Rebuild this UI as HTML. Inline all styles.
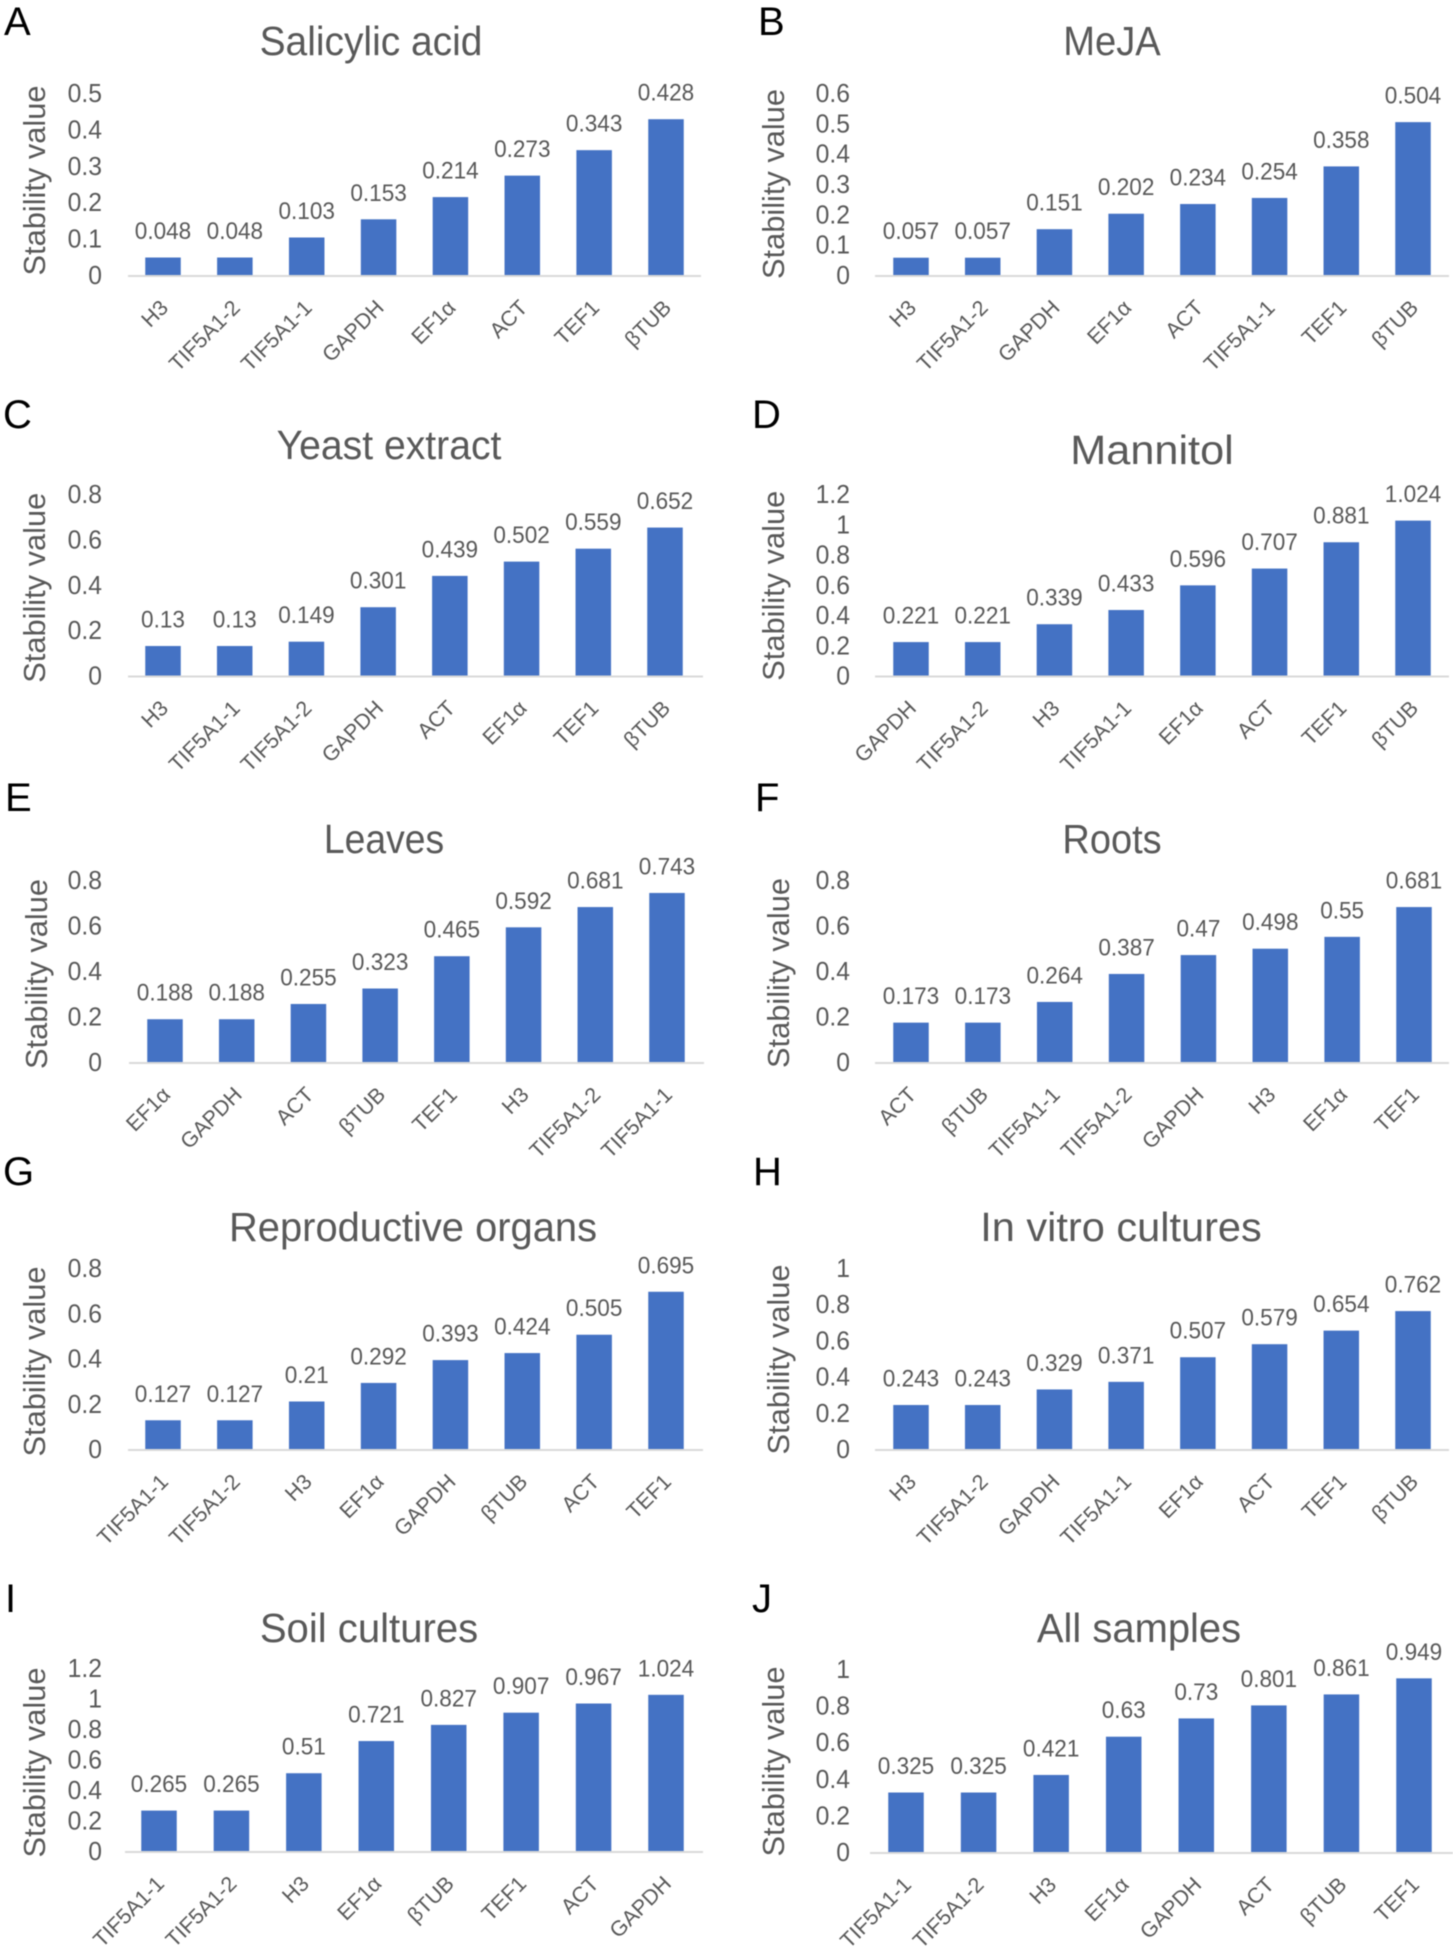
<!DOCTYPE html>
<html lang="en">
<head>
<meta charset="utf-8">
<title>Stability value charts</title>
<style>
html,body{margin:0;padding:0;background:#fff;}
svg{display:block;filter:blur(0.5px);}
text{font-family:"Liberation Sans",sans-serif;}
</style>
</head>
<body>
<svg id="figure" width="1453" height="1950" viewBox="0 0 1453 1950" xmlns="http://www.w3.org/2000/svg"></svg>
<script>
const categoriesA = ["H3","TIF5A1-2","TIF5A1-1","GAPDH","EF1α","ACT","TEF1","βTUB"];
const valuesA = [0.048,0.048,0.103,0.153,0.214,0.273,0.343,0.428];
const ticksA = ["0","0.1","0.2","0.3","0.4","0.5"];

const categoriesB = ["H3","TIF5A1-2","GAPDH","EF1α","ACT","TIF5A1-1","TEF1","βTUB"];
const valuesB = [0.057,0.057,0.151,0.202,0.234,0.254,0.358,0.504];
const ticksB = ["0","0.1","0.2","0.3","0.4","0.5","0.6"];

const categoriesC = ["H3","TIF5A1-1","TIF5A1-2","GAPDH","ACT","EF1α","TEF1","βTUB"];
const valuesC = [0.13,0.13,0.149,0.301,0.439,0.502,0.559,0.652];
const ticksC = ["0","0.2","0.4","0.6","0.8"];

const categoriesD = ["GAPDH","TIF5A1-2","H3","TIF5A1-1","EF1α","ACT","TEF1","βTUB"];
const valuesD = [0.221,0.221,0.339,0.433,0.596,0.707,0.881,1.024];
const ticksD = ["0","0.2","0.4","0.6","0.8","1","1.2"];

const categoriesE = ["EF1α","GAPDH","ACT","βTUB","TEF1","H3","TIF5A1-2","TIF5A1-1"];
const valuesE = [0.188,0.188,0.255,0.323,0.465,0.592,0.681,0.743];
const ticksE = ["0","0.2","0.4","0.6","0.8"];

const categoriesF = ["ACT","βTUB","TIF5A1-1","TIF5A1-2","GAPDH","H3","EF1α","TEF1"];
const valuesF = [0.173,0.173,0.264,0.387,0.47,0.498,0.55,0.681];
const ticksF = ["0","0.2","0.4","0.6","0.8"];

const categoriesG = ["TIF5A1-1","TIF5A1-2","H3","EF1α","GAPDH","βTUB","ACT","TEF1"];
const valuesG = [0.127,0.127,0.21,0.292,0.393,0.424,0.505,0.695];
const ticksG = ["0","0.2","0.4","0.6","0.8"];

const categoriesH = ["H3","TIF5A1-2","GAPDH","TIF5A1-1","EF1α","ACT","TEF1","βTUB"];
const valuesH = [0.243,0.243,0.329,0.371,0.507,0.579,0.654,0.762];
const ticksH = ["0","0.2","0.4","0.6","0.8","1"];

const categoriesI = ["TIF5A1-1","TIF5A1-2","H3","EF1α","βTUB","TEF1","ACT","GAPDH"];
const valuesI = [0.265,0.265,0.51,0.721,0.827,0.907,0.967,1.024];
const ticksI = ["0","0.2","0.4","0.6","0.8","1","1.2"];

const categoriesJ = ["TIF5A1-1","TIF5A1-2","H3","EF1α","GAPDH","ACT","βTUB","TEF1"];
const valuesJ = [0.325,0.325,0.421,0.63,0.73,0.801,0.861,0.949];
const ticksJ = ["0","0.2","0.4","0.6","0.8","1"];

const NS = "http://www.w3.org/2000/svg";
const root = document.getElementById("figure");

function make(parent, tag, attrs, content) {
  const el = document.createElementNS(NS, tag);
  for (const k in attrs) el.setAttribute(k, attrs[k]);
  if (content !== undefined) el.textContent = content;
  parent.appendChild(el);
  return el;
}

function place(x, y, sx) {
  return "translate(" + x + "," + y + ") scale(" + sx + ",1)";
}

function drawPanel(letter, title, categories, values, ticks, box) {
  const g = make(root, "g", {});
  
  

  const maxTick = parseFloat(ticks[ticks.length - 1]);
  const yScale = v => box.base - (v / maxTick) * (box.base - box.top);
  const xScale = i => box.first + i * (box.last - box.first) / (categories.length - 1);

  const letterEl = make(g, "text", {x: box.lx, y: box.ly, "font-size": 40, fill: "#000"}, letter);
  
  

  const titleEl = make(g, "text", {"font-size": 41, fill: "#595959", "text-anchor": "middle", transform: place(box.tx, box.ty + 14, box.ts)}, title);
  
  

  const yTitle = make(g, "text", {
    x: 0, y: 0, "font-size": 30.8, fill: "#595959", "text-anchor": "middle",
    transform: "translate(" + (box.yl + 10) + "," + ((box.base + box.top) / 2 + 2 + box.yo) + ") rotate(-90)"
  }, "Stability value");
  
  

  ticks.forEach(t => {
    const tickEl = make(g, "text", {
      "font-size": 26, fill: "#595959", "text-anchor": "end",
      transform: place(box.tr, yScale(parseFloat(t)) + 9, 0.95)
    }, t);
    
    
  });

  const barWidth = 35.5;
  categories.forEach((c, i) => {
    const cx = xScale(i);
    const top = yScale(values[i]);
    const bar = make(g, "rect", {x: cx - barWidth / 2, y: top, width: barWidth, height: box.base - top, fill: "#4472C4"});
    
    

    const valueLabel = make(g, "text", {
      "font-size": 24, fill: "#595959", "text-anchor": "middle",
      transform: place(cx, top - 18.5, 0.94)
    }, String(values[i]));
    
    

    const catLabel = make(g, "text", {
      x: 0, y: 0, "font-size": 21.5, fill: "#595959", "text-anchor": "end",
      transform: "translate(" + (cx + 6.5) + "," + (box.base + 34) + ") rotate(-45)"
    }, c);
    
    
  });

  const axis = make(g, "line", {x1: box.a0, x2: box.a1, y1: box.base + 1, y2: box.base + 1, stroke: "#D9D9D9", "stroke-width": 2});
  
  
}

drawPanel("A","Salicylic acid",categoriesA,valuesA,ticksA,{base:275,top:93,first:163,last:666,a0:128,a1:701,tr:102,yl:35,yo:-5.5,tx:371,ty:41,ts:0.95,lx:4,ly:35});
drawPanel("B","MeJA",categoriesB,valuesB,ticksB,{base:275,top:93,first:911,last:1413,a0:875,a1:1449,tr:850,yl:774,yo:-2,tx:1112,ty:41,ts:0.93,lx:758,ly:35});
drawPanel("C","Yeast extract",categoriesC,valuesC,ticksC,{base:675.5,top:494,first:163,last:665,a0:128,a1:703,tr:102,yl:35,yo:1,tx:389,ty:445,ts:0.955,lx:3,ly:428});
drawPanel("D","Mannitol",categoriesD,valuesD,ticksD,{base:675.5,top:494,first:911,last:1413,a0:875,a1:1449,tr:850,yl:774,yo:-1,tx:1152,ty:450,ts:1.055,lx:752,ly:428});
drawPanel("E","Leaves",categoriesE,valuesE,ticksE,{base:1062,top:880,first:165,last:667,a0:129,a1:704,tr:102,yl:37,yo:1,tx:384,ty:839,ts:0.91,lx:5,ly:811});
drawPanel("F","Roots",categoriesF,valuesF,ticksF,{base:1062,top:880,first:911,last:1414,a0:875,a1:1449,tr:850,yl:779,yo:0,tx:1112,ty:839,ts:0.927,lx:755,ly:811});
drawPanel("G","Reproductive organs",categoriesG,valuesG,ticksG,{base:1449,top:1268,first:163,last:666,a0:128,a1:703,tr:102,yl:35,yo:1,tx:413,ty:1227,ts:0.973,lx:3,ly:1185});
drawPanel("H","In vitro cultures",categoriesH,valuesH,ticksH,{base:1449,top:1268,first:911,last:1413,a0:875,a1:1449,tr:850,yl:779,yo:-1,tx:1121,ty:1227,ts:1.013,lx:753,ly:1185});
drawPanel("I","Soil cultures",categoriesI,valuesI,ticksI,{base:1851,top:1668,first:159,last:666,a0:125,a1:703,tr:102,yl:35,yo:1,tx:369,ty:1628,ts:0.978,lx:5,ly:1612});
drawPanel("J","All samples",categoriesJ,valuesJ,ticksJ,{base:1852,top:1669,first:906,last:1414,a0:870,a1:1453,tr:850,yl:774,yo:-1,tx:1139,ty:1628,ts:0.974,lx:752,ly:1612});
</script>
</body>
</html>
